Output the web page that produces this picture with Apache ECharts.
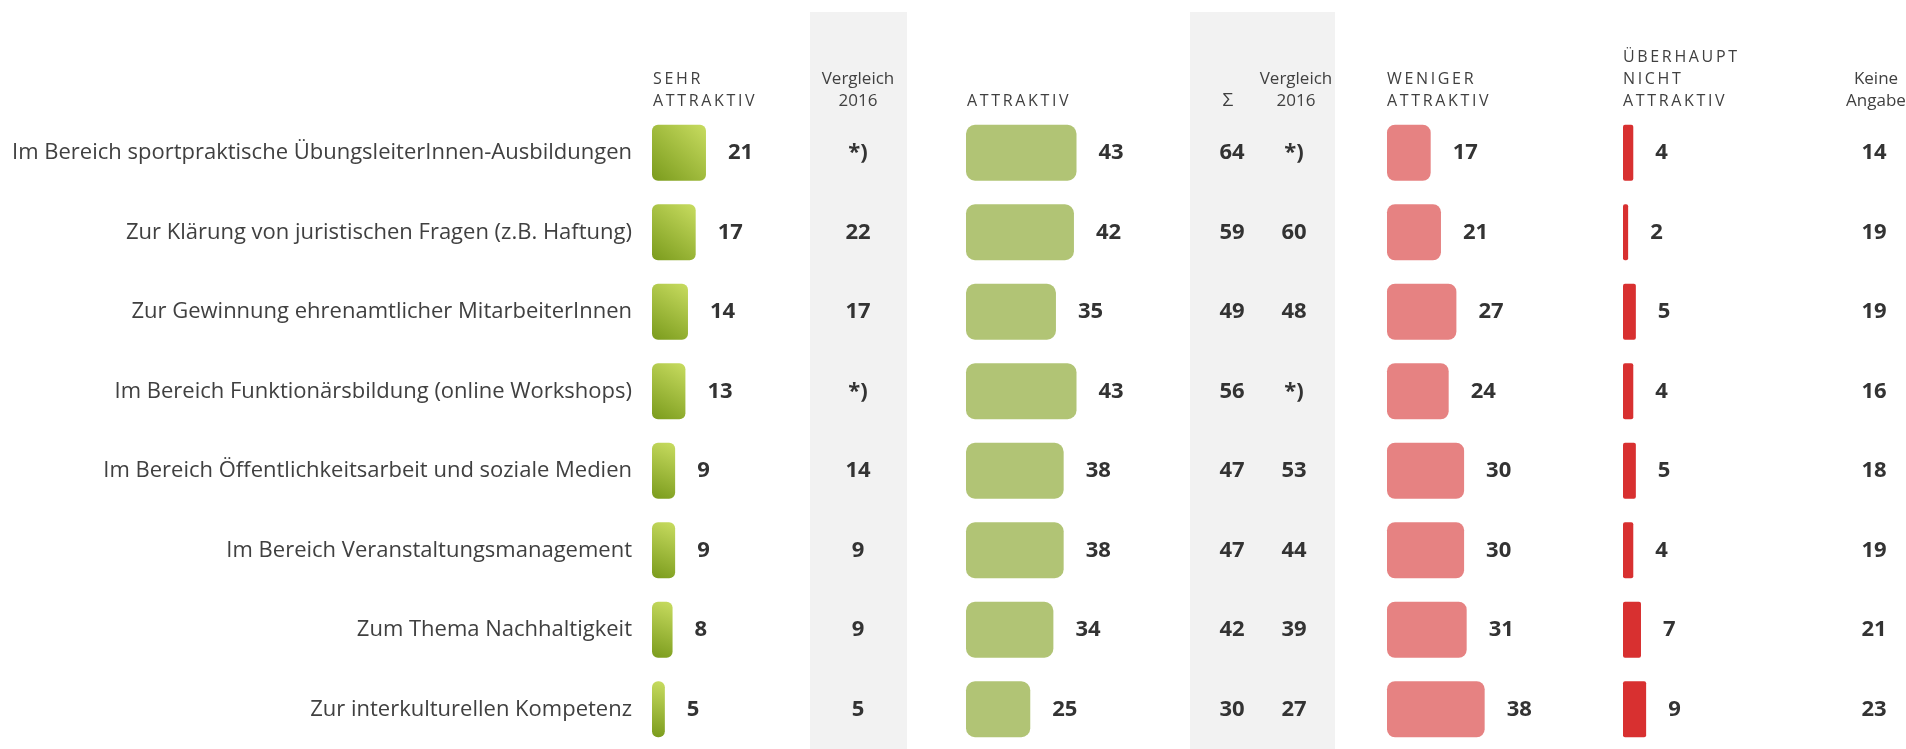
<!DOCTYPE html>
<html>
<head>
<meta charset="utf-8">
<script src="https://cdn.jsdelivr.net/npm/echarts@6/dist/echarts.min.js"></script>
<style>
  html, body { margin: 0; padding: 0; background: #ffffff; }
  #chart { width: 1906px; height: 749px; }
</style>
</head>
<body>
<div id="chart"></div>
<script>
// Survey rows (top to bottom)
const categories = [
  'Im Bereich sportpraktische ÜbungsleiterInnen-Ausbildungen',
  'Zur Klärung von juristischen Fragen (z.B. Haftung)',
  'Zur Gewinnung ehrenamtlicher MitarbeiterInnen',
  'Im Bereich Funktionärsbildung (online Workshops)',
  'Im Bereich Öffentlichkeitsarbeit und soziale Medien',
  'Im Bereich Veranstaltungsmanagement',
  'Zum Thema Nachhaltigkeit',
  'Zur interkulturellen Kompetenz'
];

// Answer shares in percent
const sehrAttraktiv    = [21, 17, 14, 13, 9, 9, 8, 5];
const vergleich2016A   = ['*)', '22', '17', '*)', '14', '9', '9', '5'];
const attraktiv        = [43, 42, 35, 43, 38, 38, 34, 25];
const summe            = ['64', '59', '49', '56', '47', '47', '42', '30'];
const vergleich2016B   = ['*)', '60', '48', '*)', '53', '44', '39', '27'];
const wenigerAttraktiv = [17, 21, 27, 24, 30, 30, 31, 38];
const ueberhauptNicht  = [4, 2, 5, 4, 5, 4, 7, 9];
const keineAngabe      = ['14', '19', '19', '16', '18', '19', '21', '23'];

// Column headings
const headSehr      = ['SEHR', 'ATTRAKTIV'];
const headVergleich = ['Vergleich', '2016'];
const headAttraktiv = ['ATTRAKTIV'];
const headSumme     = 'Σ';
const headWeniger   = ['WENIGER', 'ATTRAKTIV'];
const headNicht     = ['ÜBERHAUPT', 'NICHT', 'ATTRAKTIV'];
const headKeine     = ['Keine', 'Angabe'];

// ---- layout ----
const FONT = '"Open Sans", "Noto Sans", sans-serif';
const TEXT = '#404040';
const NUM = '#333333';
const ROWS_TOP = 113;
const ROWS_H = 636;
const SCALE_MAX = 100;      // every bar column shares the same px-per-percent
const SCALE_W = 257;
const BAR_W = 56;

const barCols = [
  { left: 652,  data: sehrAttraktiv, radius: 6,
    color: new echarts.graphic.LinearGradient(0, 1, 1, 0, [
      { offset: 0, color: '#7a9b1c' },
      { offset: 1, color: '#c8dc60' }
    ]) },
  { left: 966,  data: attraktiv,        radius: 9, color: '#b1c475' },
  { left: 1387, data: wenigerAttraktiv, radius: 8, color: '#e68282' },
  { left: 1623, data: ueberhauptNicht,  radius: 2, color: '#d83030' }
];

const textCols = [
  { center: 858,  values: vergleich2016A },
  { center: 1232, values: summe },
  { center: 1294, values: vergleich2016B },
  { center: 1874, values: keineAngabe }
];

const numStyle = { fontFamily: FONT, fontWeight: 'bold', fontSize: 22, color: NUM };

const grid = [], xAxis = [], yAxis = [], series = [];

barCols.forEach((c, i) => {
  grid.push({ left: c.left, top: ROWS_TOP, width: SCALE_W, height: ROWS_H, outerBoundsMode: 'none' });
  xAxis.push({ gridIndex: i, type: 'value', min: 0, max: SCALE_MAX, show: false });
  yAxis.push({
    gridIndex: i, type: 'category', data: categories, inverse: true,
    show: i === 0,
    axisLine: { show: false }, axisTick: { show: false }, splitLine: { show: false },
    axisLabel: { show: i === 0, margin: 20, fontFamily: FONT, fontSize: 22, color: TEXT }
  });
  series.push({
    type: 'bar', xAxisIndex: i, yAxisIndex: i, data: c.data,
    barWidth: BAR_W, silent: true,
    itemStyle: { color: c.color, borderRadius: c.radius },
    label: Object.assign({ show: true, position: 'right', distance: 22 }, numStyle)
  });
});

textCols.forEach((c, k) => {
  const i = barCols.length + k;
  grid.push({ left: c.center, top: ROWS_TOP, width: 1, height: ROWS_H, outerBoundsMode: 'none' });
  xAxis.push({ gridIndex: i, type: 'value', min: 0, max: 1, show: false });
  yAxis.push({
    gridIndex: i, type: 'category', data: categories, inverse: true,
    axisLine: { show: false }, axisTick: { show: false }, splitLine: { show: false },
    axisLabel: Object.assign({ margin: 0, align: 'center', formatter: (v, idx) => c.values[idx] }, numStyle)
  });
});

// letter-spaced capitals for the rating headings
const spaced = s => s.split('').join('\u2009');

function head(lines, x, align, opts) {
  return {
    type: 'text', z: 10,
    style: Object.assign({
      x: x, y: 112, text: lines.join('\n'), align: align, verticalAlign: 'bottom',
      fill: TEXT, fontFamily: FONT, fontSize: 16, lineHeight: 22
    }, opts || {})
  };
}

const graphic = [
  { type: 'rect', z: -5, shape: { x: 810, y: 12, width: 97, height: 737 }, style: { fill: '#f2f2f2' } },
  { type: 'rect', z: -5, shape: { x: 1190, y: 12, width: 145, height: 737 }, style: { fill: '#f2f2f2' } },
  head(headSehr.map(spaced), 653, 'left'),
  head(headVergleich, 858, 'center', { fontSize: 17 }),
  head(headAttraktiv.map(spaced), 967, 'left'),
  head([headSumme], 1228, 'center', { fontSize: 19, y: 112 }),
  head(headVergleich, 1296, 'center', { fontSize: 17 }),
  head(headWeniger.map(spaced), 1387, 'left'),
  head(headNicht.map(spaced), 1623, 'left'),
  head(headKeine, 1876, 'center', { fontSize: 17 })
];

const chart = echarts.init(document.getElementById('chart'), null, { renderer: 'canvas' });
chart.setOption({
  animation: false,
  backgroundColor: '#ffffff',
  grid, xAxis, yAxis, series, graphic
});
</script>
</body>
</html>
